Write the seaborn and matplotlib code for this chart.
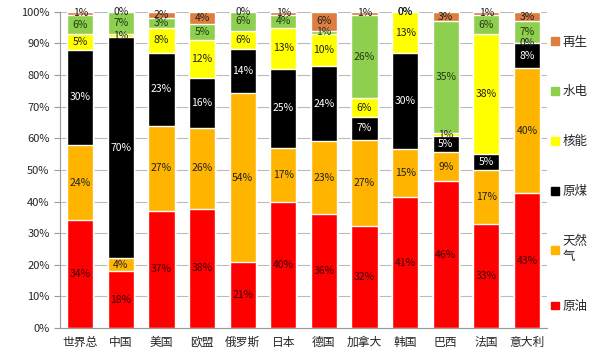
import matplotlib
matplotlib.use("Agg")
import matplotlib.pyplot as plt
import matplotlib.patches as mpatches
import numpy as np
import pandas as pd
import seaborn as sns

countries = ['世界总', '中国', '美国', '欧盟', '俄罗斯', '日本', '德国',
             '加拿大', '韩国', '巴西', '法国', '意大利']
oil = [34, 18, 37, 38, 21, 40, 36, 32, 41, 46, 33, 43]
gas = [24, 4, 27, 26, 54, 17, 23, 27, 15, 9, 17, 40]
coal = [30, 70, 23, 16, 14, 25, 24, 7, 30, 5, 5, 8]
nuclear = [5, 1, 8, 12, 6, 13, 10, 6, 13, 1, 38, 0]
hydro = [6, 7, 3, 5, 6, 4, 1, 26, 0, 35, 6, 7]
renew = [1, 0, 2, 4, 0, 1, 6, 1, 0, 3, 1, 3]

layers = ['原油', '天然气', '原煤', '核能', '水电', '再生']
legend_labels = ['原油', '天然\n气', '原煤', '核能', '水电', '再生']
colors = ['#FF0000', '#FFB400', '#000000', '#FFFF00', '#8FCF4F', '#DD7D3E']
text_colors = ['#3a0000', '#222222', 'white', '#222222', '#1f3a10', '#222222']

df = pd.DataFrame({'原油': oil, '天然气': gas, '原煤': coal, '核能': nuclear,
                   '水电': hydro, '再生': renew}, index=countries)
share = df.div(df.sum(axis=1), axis=0) * 100
cum = share.cumsum(axis=1)

sns.set_style('white')
plt.rcParams['font.family'] = ['Noto Sans CJK SC', 'DejaVu Sans']

fig = plt.figure(figsize=(6, 3.6), dpi=100)
ax = fig.add_axes([0.1, 0.089, 0.812, 0.878])

# draw the stacks from the top layer down so lower layers cover upper ones
for name, col in reversed(list(zip(layers, colors))):
    sns.barplot(x=countries, y=cum[name].values, color=col, width=0.65,
                saturation=1, ax=ax, zorder=2)

for i, c in enumerate(countries):
    for name, tc in zip(layers, text_colors):
        v = df.loc[c, name]
        mid = cum.loc[c, name] - share.loc[c, name] / 2
        ax.text(i, mid, f'{v}%', ha='center', va='center', fontsize=7.5,
                color=tc, zorder=3)

ax.set_ylim(0, 100)
ax.set_xlim(-0.5, len(countries) - 0.5)
ax.set_yticks(np.arange(0, 101, 10))
ax.set_yticklabels([f'{t}%' for t in range(0, 101, 10)], fontsize=8)
ax.tick_params(axis='x', labelsize=8.5, length=0, pad=6)
ax.set_xticks(np.arange(-0.5, len(countries), 1), minor=True)
ax.tick_params(axis='x', which='minor', length=4, color='#999999')
ax.tick_params(axis='y', length=4, color='#999999', left=True)
ax.yaxis.grid(True, color='#bbbbbb', linewidth=0.8, zorder=0)
ax.set_axisbelow(True)
for s in ['top', 'right']:
    ax.spines[s].set_visible(False)
for s in ['left', 'bottom']:
    ax.spines[s].set_color('#999999')

handles = [mpatches.Patch(color=col, label=lab) for col, lab in
           zip(colors, legend_labels)]
ax.legend(handles=handles[::-1], loc='upper left', bbox_to_anchor=(0.995, 0.945),
          frameon=False, fontsize=9, labelspacing=2.95, handlelength=0.6,
          handleheight=0.6, handletextpad=0.35, borderpad=0)

fig.savefig('out.png', dpi=100)
